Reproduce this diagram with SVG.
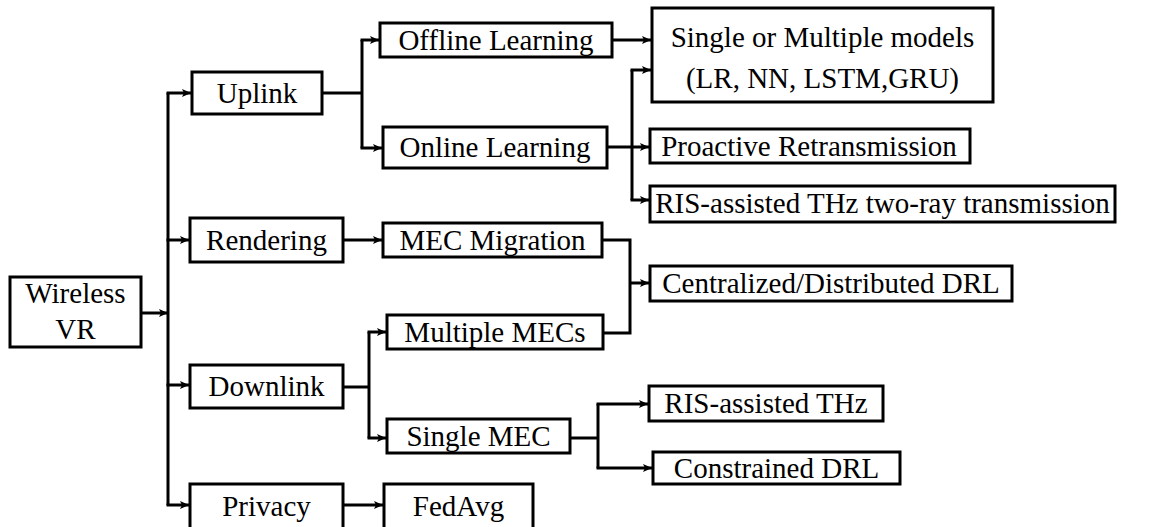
<svg xmlns="http://www.w3.org/2000/svg" width="1153" height="527" viewBox="0 0 1153 527">
  <style>
    .box { fill: #fff; stroke: #000; stroke-width: 3; }
    .lbl { font-family: "Liberation Serif", "Times New Roman", serif; font-size: 29px; fill: #000; text-anchor: middle; }
    .wire { fill: none; stroke: #000; stroke-width: 3; }
    .arr { fill: none; stroke: #000; stroke-width: 3; marker-end: url(#head); }
  </style>
  <defs>
    <marker id="head" markerUnits="userSpaceOnUse" markerWidth="10" markerHeight="10" refX="9" refY="5" orient="auto">
      <path d="M0,1 L9,5 L0,9 L2,5 z" fill="#000"/>
    </marker>
  </defs>
  <rect width="1153" height="527" fill="#fff"/>

  <!-- connectors -->
  <g id="connectors">
    <path class="arr" d="M141,313 H168"/>
    <path class="wire" d="M168,93 V505"/>
    <path class="arr" d="M166.5,93 H191"/>
    <path class="arr" d="M166.5,240 H189"/>
    <path class="arr" d="M166.5,385 H189"/>
    <path class="arr" d="M166.5,505 H189"/>

    <path class="wire" d="M322,93 H362"/>
    <path class="wire" d="M362,40 V148"/>
    <path class="arr" d="M360.5,40 H379"/>
    <path class="arr" d="M360.5,148 H382"/>

    <path class="arr" d="M612,40 H651"/>
    <path class="arr" d="M607,147 H649"/>
    <path class="wire" d="M632,70 V200"/>
    <path class="arr" d="M630.5,70 H651"/>
    <path class="arr" d="M630.5,200 H649"/>

    <path class="arr" d="M343,240 H382"/>
    <path class="wire" d="M602,240 H630 V333 H603"/>
    <path class="arr" d="M630,283 H649"/>

    <path class="wire" d="M343,387 H369"/>
    <path class="wire" d="M369,332 V438"/>
    <path class="arr" d="M367.5,332 H386"/>
    <path class="arr" d="M367.5,438 H386"/>

    <path class="wire" d="M570,438 H598"/>
    <path class="wire" d="M598,404 V468"/>
    <path class="arr" d="M596.5,404 H648"/>
    <path class="arr" d="M596.5,468 H652"/>

    <path class="arr" d="M343,505 H383"/>
  </g>

  <g id="wireless-vr">
    <rect class="box" x="10" y="277" width="131" height="70"/>
    <text class="lbl" x="75.5" y="303">Wireless</text>
    <text class="lbl" x="75.5" y="339">VR</text>
  </g>
  <g id="uplink">
    <rect class="box" x="192" y="72" width="130" height="42"/>
    <text class="lbl" x="257" y="103">Uplink</text>
  </g>
  <g id="rendering">
    <rect class="box" x="190" y="218" width="153" height="44"/>
    <text class="lbl" x="266.5" y="250">Rendering</text>
  </g>
  <g id="downlink">
    <rect class="box" x="190" y="365" width="153" height="43"/>
    <text class="lbl" x="266.5" y="396">Downlink</text>
  </g>
  <g id="privacy">
    <rect class="box" x="190" y="484" width="153" height="52"/>
    <text class="lbl" x="266.5" y="516">Privacy</text>
  </g>
  <g id="offline-learning">
    <rect class="box" x="380" y="23" width="232" height="34"/>
    <text class="lbl" x="496" y="50">Offline Learning</text>
  </g>
  <g id="online-learning">
    <rect class="box" x="383" y="127" width="224" height="41"/>
    <text class="lbl" x="495" y="157">Online Learning</text>
  </g>
  <g id="mec-migration">
    <rect class="box" x="383" y="223" width="219" height="34"/>
    <text class="lbl" x="492.5" y="250">MEC Migration</text>
  </g>
  <g id="multiple-mecs">
    <rect class="box" x="387" y="315" width="216" height="34"/>
    <text class="lbl" x="495" y="342">Multiple MECs</text>
  </g>
  <g id="single-mec">
    <rect class="box" x="387" y="419" width="183" height="34"/>
    <text class="lbl" x="478.5" y="446">Single MEC</text>
  </g>
  <g id="fedavg">
    <rect class="box" x="384" y="484" width="149" height="52"/>
    <text class="lbl" x="458.5" y="516">FedAvg</text>
  </g>
  <g id="models">
    <rect class="box" x="652" y="8" width="341" height="94"/>
    <text class="lbl" x="822.5" y="47">Single or Multiple models</text>
    <text class="lbl" x="822.5" y="88">(LR, NN, LSTM,GRU)</text>
  </g>
  <g id="proactive-retransmission">
    <rect class="box" x="650" y="129" width="320" height="34"/>
    <text class="lbl" x="809" y="156">Proactive Retransmission</text>
  </g>
  <g id="ris-two-ray">
    <rect class="box" x="650" y="186" width="465" height="36"/>
    <text class="lbl" x="882.5" y="213">RIS-assisted THz two-ray transmission</text>
  </g>
  <g id="centralized-distributed-drl">
    <rect class="box" x="650" y="266" width="362" height="35"/>
    <text class="lbl" x="831" y="293">Centralized/Distributed DRL</text>
  </g>
  <g id="ris-thz">
    <rect class="box" x="649" y="386" width="234" height="35"/>
    <text class="lbl" x="766" y="413">RIS-assisted THz</text>
  </g>
  <g id="constrained-drl">
    <rect class="box" x="653" y="452" width="247" height="32"/>
    <text class="lbl" x="776.5" y="478">Constrained DRL</text>
  </g>
</svg>
